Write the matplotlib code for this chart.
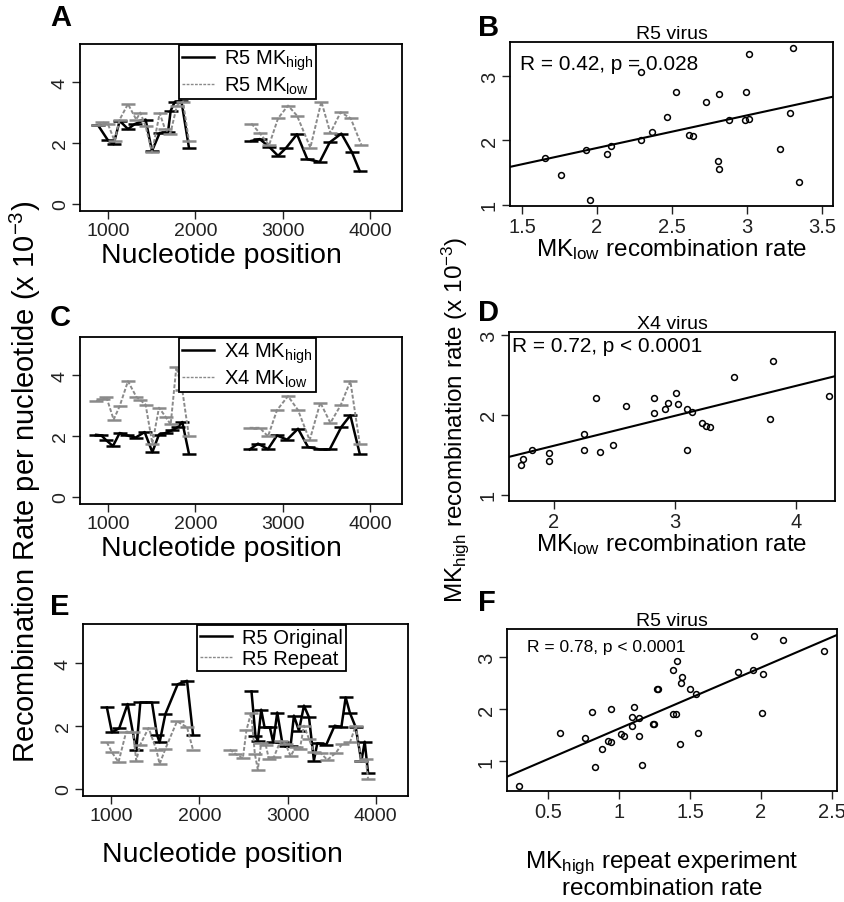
import numpy as np
import matplotlib.pyplot as plt
from matplotlib.lines import Line2D

plt.rcParams['font.family'] = ['Liberation Sans', 'DejaVu Sans']
plt.rcParams['mathtext.fontset'] = 'custom'
plt.rcParams['mathtext.rm'] = 'Liberation Sans'
plt.rcParams['mathtext.it'] = 'Liberation Sans:italic'
plt.rcParams['mathtext.bf'] = 'Liberation Sans:bold'

# panel A: R5 MK high / low along genome
a_high_x = [885, 1000, 1065, 1134, 1229, 1305, 1431, 1504, 1592, 1687, 1718, 1763, 1840, 1927,
            2641, 2737, 2844, 2947, 3042, 3164, 3282, 3424, 3538, 3672, 3794, 3882]
a_high_y = [2.59, 2.09, 1.96, 2.73, 2.46, 2.62, 2.77, 1.74, 2.33, 2.35, 3.06, 3.34, 3.39, 1.85,
            2.07, 2.13, 1.88, 1.58, 1.85, 2.29, 1.47, 1.38, 2.02, 2.31, 1.69, 1.08]
a_low_x = [885, 935, 1000, 1076, 1134, 1229, 1324, 1370, 1431, 1504, 1592, 1653, 1714, 1790, 1859, 1927,
           2641, 2737, 2844, 2947, 3061, 3164, 3317, 3443, 3546, 3664, 3779, 3901]
a_low_y = [2.59, 2.68, 2.62, 2.07, 2.77, 3.28, 2.77, 3.00, 2.55, 1.69, 2.98, 2.46, 2.31, 3.23, 3.36, 2.07,
           2.64, 2.33, 1.93, 2.81, 3.23, 2.90, 1.85, 3.36, 2.33, 3.01, 2.81, 1.94]

# panel C: X4 MK high / low
c_high_x = [866, 924, 981, 1057, 1134, 1218, 1317, 1420, 1508, 1584, 1660, 1737, 1802, 1851, 1927,
            2622, 2718, 2832, 2935, 3050, 3176, 3290, 3424, 3538, 3672, 3775, 3882]
c_high_y = [2.04, 2.02, 1.86, 1.67, 2.10, 2.02, 1.95, 2.13, 1.47, 2.05, 2.10, 2.19, 2.30, 2.46, 1.42,
            1.56, 1.75, 1.57, 2.02, 1.88, 2.24, 1.64, 1.56, 1.56, 2.30, 2.68, 1.42]
c_low_x = [866, 943, 981, 1065, 1134, 1229, 1324, 1370, 1431, 1508, 1584, 1660, 1718, 1783, 1851, 1927,
           2622, 2737, 2832, 2935, 3061, 3176, 3309, 3431, 3546, 3664, 3775, 3882]
c_low_y = [3.15, 3.20, 3.29, 2.54, 2.98, 3.80, 3.29, 3.18, 3.03, 1.75, 2.93, 2.63, 2.38, 4.27, 3.51, 1.99,
           2.27, 2.27, 1.99, 2.85, 3.31, 2.85, 1.86, 3.10, 2.43, 3.01, 3.80, 1.75]

# panel E: R5 original / repeat
e_orig_x = [951, 1008, 1091, 1186, 1284, 1330, 1462, 1519, 1549, 1614, 1754, 1860, 1928,
            2591, 2636, 2663, 2701, 2739, 2799, 2837, 2883, 2939, 2977, 3034, 3072, 3129, 3186,
            3243, 3299, 3337, 3440, 3534, 3610, 3659, 3708, 3773, 3837, 3875, 3913]
e_orig_y = [2.59, 1.80, 1.93, 2.70, 1.22, 2.75, 2.75, 1.72, 1.48, 2.38, 3.33, 3.44, 1.72,
            3.10, 1.69, 1.53, 2.52, 1.96, 1.96, 1.48, 2.43, 1.48, 1.35, 1.35, 2.33, 1.85, 2.65,
            2.28, 0.90, 1.45, 1.41, 2.01, 1.96, 2.91, 2.41, 1.96, 0.87, 1.50, 0.51]
e_rep_x = [951, 1008, 1083, 1170, 1246, 1284, 1330, 1424, 1511, 1549, 1614, 1746, 1860, 1928,
           2345, 2409, 2493, 2534, 2587, 2629, 2663, 2701, 2754, 2788, 2845, 2920, 2977, 3034,
           3091, 3140, 3186, 3243, 3299, 3375, 3451, 3546, 3621, 3708, 3773, 3837, 3886, 3913]
e_rep_y = [1.48, 1.16, 0.85, 1.82, 1.82, 0.90, 1.41, 1.94, 1.25, 0.79, 1.27, 2.15, 1.96, 1.24,
           1.25, 1.11, 0.97, 1.87, 2.43, 1.11, 0.61, 1.46, 1.38, 0.95, 1.01, 1.53, 1.43, 1.04,
           1.32, 1.27, 2.01, 1.59, 1.16, 1.14, 0.92, 1.14, 1.43, 1.48, 2.01, 0.90, 0.95, 0.32]

# panel B: R5 MK low vs MK high
b_x = [1.656, 1.762, 1.924, 1.956, 2.069, 2.096, 2.296, 2.296, 2.364, 2.467, 2.529, 2.613, 2.64,
       2.729, 2.816, 2.809, 2.813, 2.88, 2.984, 2.996, 3.013, 3.013, 3.218, 3.284, 3.307, 3.347]
b_y = [1.73, 1.46, 1.85, 1.07, 1.79, 1.92, 3.06, 2.01, 2.13, 2.36, 2.76, 2.08, 2.07,
       2.60, 2.72, 1.68, 1.56, 2.31, 2.32, 2.76, 2.33, 3.34, 1.87, 2.42, 3.43, 1.36]

# panel D: X4 MK low vs MK high
d_x = [1.728, 1.747, 1.82, 1.956, 1.956, 2.251, 2.245, 2.346, 2.379, 2.485, 2.594, 2.826, 2.826,
       2.921, 2.94, 3.011, 3.022, 3.095, 3.095, 3.139, 3.226, 3.259, 3.286, 3.488, 3.785, 3.807, 4.27]
d_y = [1.377, 1.444, 1.565, 1.519, 1.418, 1.766, 1.565, 2.213, 1.531, 1.619, 2.113, 2.213, 2.025,
       2.079, 2.146, 2.28, 2.134, 2.071, 1.565, 2.033, 1.904, 1.862, 1.845, 2.477, 1.954, 2.674, 2.243]

# panel F: R5 repeat vs original
f_x = [0.296, 0.587, 0.761, 0.808, 0.831, 0.880, 0.923, 0.944, 0.944, 1.012, 1.035, 1.092, 1.094,
       1.106, 1.143, 1.141, 1.164, 1.237, 1.246, 1.268, 1.277, 1.380, 1.383, 1.404, 1.408, 1.432,
       1.444, 1.439, 1.498, 1.540, 1.556, 1.840, 1.944, 1.951, 2.007, 2.014, 2.153, 2.441]
f_y = [0.516, 1.535, 1.452, 1.948, 0.890, 1.226, 1.387, 2.013, 1.368, 1.516, 1.477, 1.677, 1.852,
       2.052, 1.826, 1.477, 0.916, 1.723, 1.723, 2.387, 2.387, 2.755, 1.903, 1.903, 2.923, 1.323,
       2.613, 2.516, 2.400, 2.303, 1.548, 2.710, 2.755, 3.413, 1.935, 2.690, 3.329, 3.123]

W, H = 845, 903
fig = plt.figure(figsize=(W / 100, H / 100), dpi=100)


def box(l, t, r, b):
    return [l / W, 1 - b / H, (r - l) / W, (b - t) / H]


def style(ax, size=14):
    ax.tick_params(direction='out', length=6, width=1, labelsize=size, pad=2, colors='#222222')
    ax.tick_params(axis='y', labelrotation=90)
    for lab in ax.get_yticklabels():
        lab.set_va('center')
    for s in ax.spines.values():
        s.set_linewidth(1.3)


def line_panel(ax, xs1, ys1, xs2, ys2, labels, leg_x, label_x):
    kws = [dict(color='black', lw=1.8, ls='-'),
           dict(color='#8a8a8a', lw=1.4, ls=(0, (2, 1)))]
    for (x, y), kw in zip([(xs1, ys1), (xs2, ys2)], kws):
        x = np.asarray(x, float)
        y = np.asarray(y, float)
        brk = np.where(np.diff(x) > 400)[0] + 1
        for xx, yy in zip(np.split(x, brk), np.split(y, brk)):
            ax.plot(xx, yy, marker='_', ms=10, mew=1.8, **kw)
    ax.set_xlim(680, 4366)
    ax.set_ylim(-0.23, 5.25)
    ax.set_xticks([1000, 2000, 3000, 4000])
    ax.set_yticks([0, 2, 4])
    handles = [Line2D([], [], **kws[0]), Line2D([], [], color='#8a8a8a', lw=1.0, ls=(0, (2, 1)))]
    leg = ax.legend(handles, labels, loc='upper center', bbox_to_anchor=(leg_x, 0.995),
                    fancybox=False, edgecolor='black', framealpha=1, fontsize=14.5,
                    borderpad=0.15, labelspacing=0.12, handlelength=1.6, handletextpad=0.5,
                    borderaxespad=0)
    leg.get_frame().set_linewidth(1.3)
    style(ax, 14)
    ax.set_xlabel('Nucleotide position', fontsize=20.5, labelpad=2, x=label_x)


def scatter_panel(ax, x, y, xlim, ylim, xticks, xticklabels, note, note_xy, note_size):
    ax.plot(x, y, 'o', ms=4.2, mfc='none', mec='black', mew=1.1)
    k, b0 = np.polyfit(x, y, 1)
    ax.axline((0, b0), slope=k, color='black', lw=1.5)
    ax.set_xlim(*xlim)
    ax.set_ylim(*ylim)
    ax.set_xticks(xticks)
    ax.set_xticklabels(xticklabels)
    ax.set_yticks([1, 2, 3])
    ax.text(note_xy[0], note_xy[1], note, transform=ax.transAxes, fontsize=note_size,
            ha='left', va='center')
    style(ax, 14.5)


ax_a = fig.add_axes(box(80, 45, 402, 212))
line_panel(ax_a, a_high_x, a_high_y, a_low_x, a_low_y,
           ['R5 MK$_{\\mathrm{high}}$', 'R5 MK$_{\\mathrm{low}}$'], 0.52, 0.44)

ax_c = fig.add_axes(box(80, 338, 402, 505))
line_panel(ax_c, c_high_x, c_high_y, c_low_x, c_low_y,
           ['X4 MK$_{\\mathrm{high}}$', 'X4 MK$_{\\mathrm{low}}$'], 0.52, 0.44)

ax_e = fig.add_axes(box(83, 625, 408, 797))
line_panel(ax_e, e_orig_x, e_orig_y, e_rep_x, e_rep_y,
           ['R5 Original', 'R5 Repeat'], 0.58, 0.43)
ax_e.xaxis.labelpad = 12

ax_b = fig.add_axes(box(510, 43, 833, 207))
scatter_panel(ax_b, b_x, b_y, (1.42, 3.573), (0.98, 3.53), [1.5, 2, 2.5, 3, 3.5],
              ['1.5', '2', '2.5', '3', '3.5'], 'R = 0.42, p = 0.028', (0.03, 0.87), 15)
ax_b.set_title('R5 virus', fontsize=14, pad=2)
ax_b.set_xlabel('MK$_{\\mathrm{low}}$ recombination rate', fontsize=17.5, labelpad=0)

ax_d = fig.add_axes(box(509, 333, 835, 502))
scatter_panel(ax_d, d_x, d_y, (1.63, 4.32), (0.92, 3.04), [2, 3, 4],
              ['2', '3', '4'], 'R = 0.72, p < 0.0001', (0.01, 0.92), 15)
ax_d.set_title('X4 virus', fontsize=14, pad=3)
ax_d.set_xlabel('MK$_{\\mathrm{low}}$ recombination rate', fontsize=17.5, labelpad=0)

ax_f = fig.add_axes(box(507, 630, 837, 792))
scatter_panel(ax_f, f_x, f_y, (0.211, 2.535), (0.42, 3.55), [0.5, 1, 1.5, 2, 2.5],
              ['0.5', '1', '1.5', '2', '2.5'], 'R = 0.78, p < 0.0001', (0.06, 0.89), 12.5)
ax_f.set_title('R5 virus', fontsize=14, pad=3)
ax_f.set_xlabel('MK$_{\\mathrm{high}}$ repeat experiment\nrecombination rate',
                fontsize=17.5, labelpad=20, linespacing=1.05, x=0.47)

for letter, x, y in [('A', 50, 18), ('B', 478, 28), ('C', 50, 318), ('D', 478, 313),
                     ('E', 50, 607), ('F', 478, 603)]:
    fig.text(x / W, 1 - y / H, letter, fontsize=21, fontweight='bold', ha='left', va='center')

fig.text(25 / W, 1 - 482 / H, 'Recombination Rate per nucleotide (x 10$^{-3}$)',
         rotation=90, fontsize=21, ha='center', va='center')
fig.text(455 / W, 1 - 420 / H, 'MK$_{\\mathrm{high}}$ recombination rate (x 10$^{-3}$)',
         rotation=90, fontsize=17.5, ha='center', va='center')

fig.savefig('out.png', dpi=100)
